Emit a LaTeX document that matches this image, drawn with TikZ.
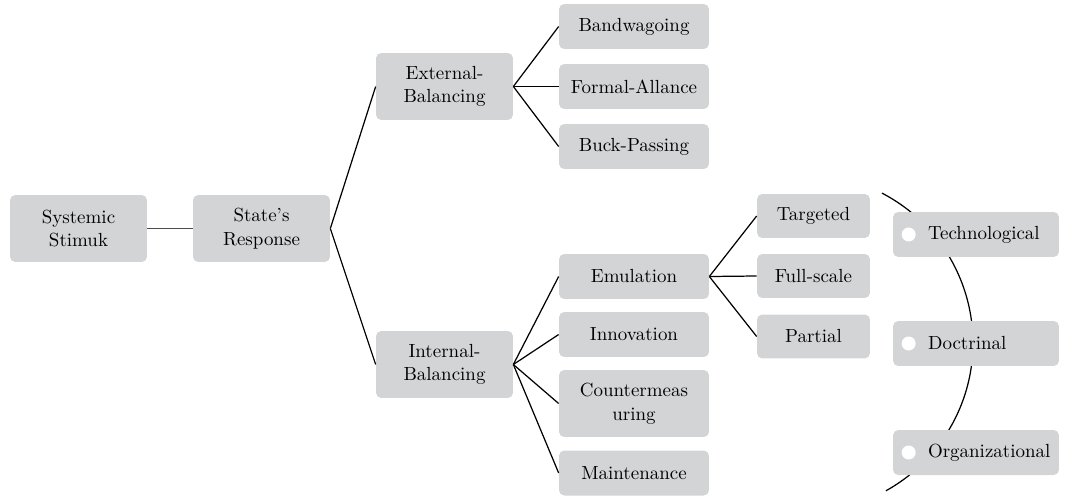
\documentclass[tikz,border=0pt]{standalone}
\definecolor{boxgray}{RGB}{211,212,214}

\begin{document}
\begin{tikzpicture}[x=0.02cm,y=0.02cm,
    box/.style={shape=rectangle,rounded corners=3pt,fill=boxgray,align=center,
        font=\fontsize{10.8}{13.5}\selectfont,inner sep=0pt},
    bigbox/.style={box,minimum width=2.74cm,minimum height=1.34cm},
    leafbox/.style={box,minimum width=3cm,minimum height=0.9cm},
    smallbox/.style={box,minimum width=2.26cm,minimum height=0.88cm},
    dotbox/.style={box,minimum width=3.32cm,minimum height=0.9cm,text width=3.2cm,align=left},
    link/.style={-,line width=0.7pt}]
    \useasboundingbox (0,0) rectangle (1066,495);

    % arc behind the three kinds
    \coordinate (arcc) at (804,152);
    \draw[line width=0.7pt] (arcc) ++(62.5:3.38cm) arc[start angle=62.5,end angle=-61,radius=3.38cm];

    \node[bigbox] (sys) at (78.5,266.5) {Systemic\\Stimuk};
    \node[bigbox] (state) at (261.5,266.5) {State’s\\Response};
    \node[bigbox] (ext) at (444.5,408.5) {External-\\Balancing};
    \node[bigbox] (int) at (444.5,130.5) {Internal-\\Balancing};

    \node[leafbox] (band) at (634,468.5) {Bandwagoing};
    \node[leafbox] (formal) at (634,408.5) {Formal-Allance};
    \node[leafbox] (buck) at (634,348.5) {Buck-Passing};

    \node[leafbox] (emu) at (634,218.5) {Emulation};
    \node[leafbox] (inno) at (634,160.5) {Innovation};
    \node[leafbox,minimum height=1.34cm] (counter) at (634,91.5) {Countermeas\\uring};
    \node[leafbox] (maint) at (634,22) {Maintenance};

    \node[smallbox] (targ) at (813.5,279) {Targeted};
    \node[smallbox] (full) at (813.5,219) {Full-scale};
    \node[smallbox] (part) at (813.5,158.5) {Partial};

    \node[dotbox] (tech) at (976,260.5) {\hspace*{0.64cm}\mbox{Technological}};
    \node[dotbox] (doc) at (976,151.5) {\hspace*{0.64cm}\mbox{Doctrinal}};
    \node[dotbox] (org) at (976,42.5) {\hspace*{0.64cm}\mbox{Organizational}};
    \fill[white] ([xshift=0.32cm]tech.west) circle (0.14cm);
    \fill[white] ([xshift=0.32cm]doc.west) circle (0.14cm);
    \fill[white] ([xshift=0.32cm]org.west) circle (0.14cm);

    \path [link,draw=black!70](sys.east) edge (state.west);
    \path [link](state.east) edge (ext.west);
    \path [link](state.east) edge (int.west);
    \path [link](ext.east) edge (band.west);
    \path [link](ext.east) edge (formal.west);
    \path [link](ext.east) edge (buck.west);
    \path [link](int.east) edge (emu.west);
    \path [link](int.east) edge (inno.west);
    \path [link](int.east) edge (counter.west);
    \path [link](int.east) edge (maint.west);
    \path [link](emu.east) edge (targ.west);
    \path [link](emu.east) edge (full.west);
    \path [link](emu.east) edge (part.west);

\end{tikzpicture}
\end{document}
